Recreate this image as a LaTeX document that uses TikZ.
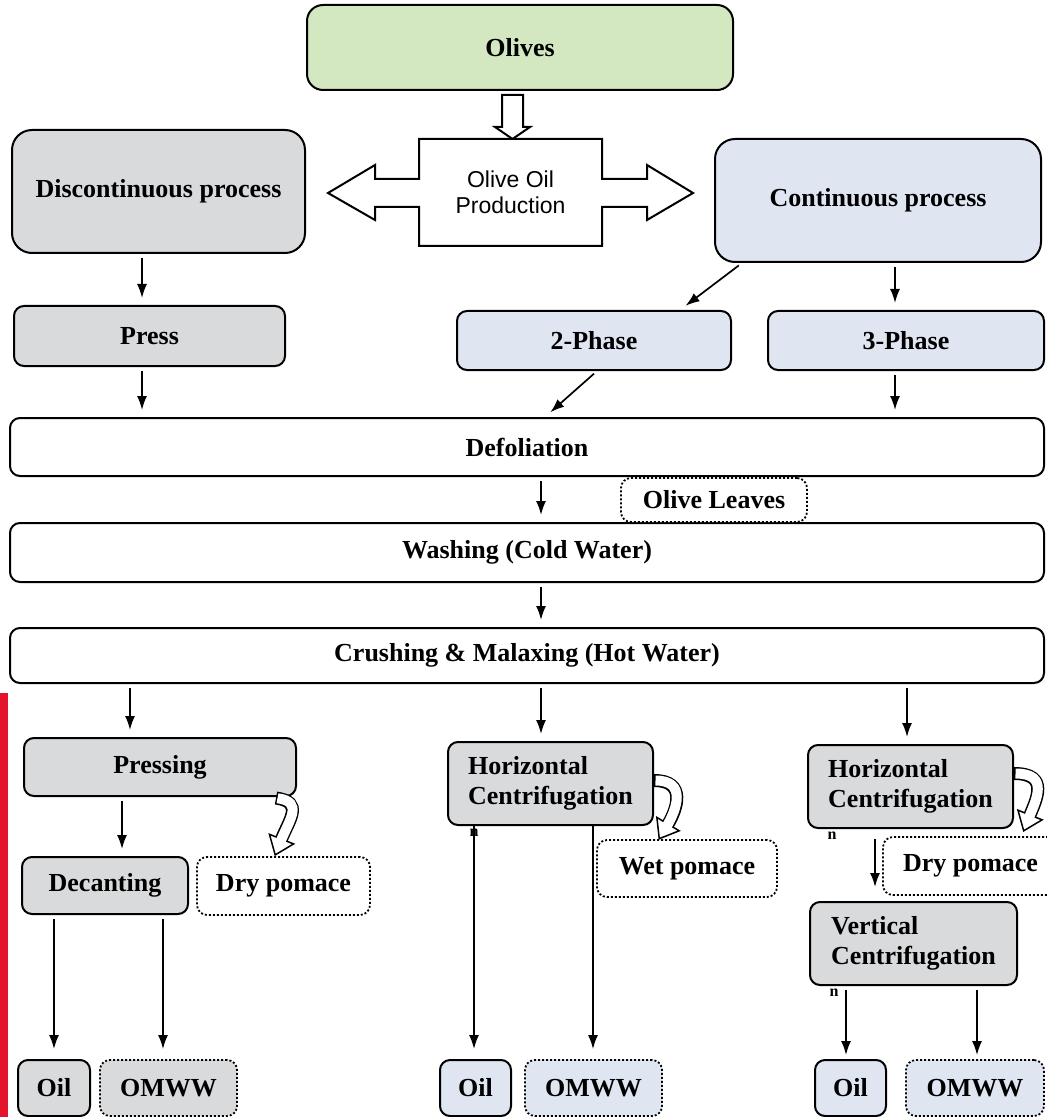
\documentclass[tikz,border=0pt]{standalone}
\usepackage{fontspec}
\setmainfont{Liberation Serif}
\newfontfamily\arialfont{Liberation Sans}
\usepackage{xcolor}
\usetikzlibrary{arrows.meta,calc}
\definecolor{oliveGreen}{RGB}{211, 231, 193}
\definecolor{stepGray}{RGB}{217, 218, 219}
\definecolor{stepBlue}{RGB}{223, 230, 241}
\definecolor{barRed}{RGB}{228, 20, 45}

\tikzset{
  procbox/.style={draw, line width=1pt, rounded corners=5pt, inner sep=2pt, align=center,
    font=\bfseries\fontsize{13}{15}\selectfont},
  graybox/.style={procbox, fill=stepGray},
  bluebox/.style={procbox, fill=stepBlue},
  wastebox/.style={procbox, densely dotted, line width=0.9pt},
  flow/.style={-{Latex[length=7pt,width=5pt]}, line width=0.85pt, shorten <=2pt, shorten >=3.5pt},
  tickmark/.style={inner sep=0pt, font=\bfseries\fontsize{8}{8}\selectfont},
}

% hollow curved arrow: start, out vector, in vector, end of shaft
\newcommand{\pomacecurl}[4]{%
  \coordinate (curlS) at #1;
  \coordinate (curlE) at #4;
  \coordinate (curlC) at ($(curlE)+#3$);
  \filldraw[fill=white, line width=0.75pt]
    ($(curlE)!6.5pt!90:(curlC)$) -- ($(curlE)!8.5pt!180:(curlC)$) -- ($(curlE)!6.5pt!-90:(curlC)$) -- cycle;
  \draw[line width=6.5pt] (curlS) .. controls +#2 and +#3 .. (curlE);
  \draw[line width=5pt, white, shorten <=0.75pt, shorten >=-1.5pt] (curlS) .. controls +#2 and +#3 .. (curlE);
}

\begin{document}
\begin{tikzpicture}[x=0.5pt, y=-0.5pt]
            \useasboundingbox (0,0) rectangle (1046,1117);
            \fill[barRed] (0,693) rectangle (8,1117);

            % Top
            \node[procbox, fill=oliveGreen, rounded corners=8pt, minimum width=213pt, minimum height=42.5pt] (olives) at (520,47.5) {Olives};
            \draw[line width=1pt, fill=white] (502,95) -- (523,95) -- (523,127) -- (530,127) -- (512.5,139) -- (495,127) -- (502,127) -- cycle;
            \draw[line width=1pt, fill=white] (419,139) -- (602,139) -- (602,179) -- (647,179) -- (647,165) -- (693,193) -- (647,220) -- (647,207) -- (602,207) -- (602,246) -- (419,246) -- (419,207) -- (375,207) -- (375,220) -- (328,193) -- (375,165) -- (375,179) -- (419,179) -- cycle;
            \node[font=\arialfont\fontsize{11.5}{13}\selectfont, align=center] (oop) at (510.5,192.5) {Olive Oil\\Production};

            \node[graybox, rounded corners=10pt, minimum width=146.5pt, minimum height=61.5pt] (disc) at (158.5,191.5) {Discontinuous process};
            \node[bluebox, rounded corners=10pt, minimum width=163pt, minimum height=61.5pt] (cont) at (878,200.5) {Continuous process};

            \node[graybox, minimum width=135.5pt, minimum height=30pt] (press) at (149.5,336) {Press};
            \node[bluebox, minimum width=137pt, minimum height=29.5pt] (ph2) at (594,340.5) {2-Phase};
            \node[bluebox, minimum width=138pt, minimum height=29.5pt] (ph3) at (906,340.5) {3-Phase};

            % Common steps
            \node[procbox, minimum width=517pt, minimum height=29pt] (defol) at (527,447) {Defoliation};
            \node[procbox, minimum width=517pt, minimum height=29.5pt] (wash) at (527,552.5) {Washing (Cold Water)};
            \node[wastebox, fill=white, minimum width=93pt, minimum height=22pt] (leaves) at (714,500) {Olive Leaves};
            \node[procbox, minimum width=517pt, minimum height=27.5pt] (crush) at (527,655.5) {Crushing \& Malaxing (Hot Water)};

            % Pressing line
            \node[graybox, minimum width=136pt, minimum height=29pt] (pressing) at (160,767) {Pressing};
            \node[graybox, minimum width=83pt, minimum height=28.5pt] (decant) at (105,885.5) {Decanting};
            \node[wastebox, fill=white, minimum width=86.5pt, minimum height=29pt] (drypL) at (283.5,886) {Dry pomace};
            \node[graybox, minimum width=36pt, minimum height=28pt] (oilL) at (54,1088) {Oil};
            \node[wastebox, fill=stepGray, minimum width=68.5pt, minimum height=28pt] (omwwL) at (168.5,1088) {OMWW};

            % 2-phase line
            \node[graybox, align=left, minimum width=102.5pt, minimum height=41.5pt] (hcM) at (550.5,783.5) {Horizontal\\Centrifugation};
            \node[wastebox, fill=white, minimum width=90pt, minimum height=28.5pt] (wetp) at (687,868.5) {Wet pomace};
            \node[bluebox, minimum width=35.5pt, minimum height=28pt] (oilM) at (475.5,1088) {Oil};
            \node[wastebox, fill=stepBlue, minimum width=68.5pt, minimum height=28pt] (omwwM) at (593.5,1088) {OMWW};

            % 3-phase line
            \node[graybox, align=left, minimum width=102.5pt, minimum height=41.5pt] (hcR) at (910.5,786.5) {Horizontal\\Centrifugation};
            \node[wastebox, fill=white, minimum width=87.5pt, minimum height=29pt] (dryR) at (970.5,866) {Dry pomace};
            \node[graybox, align=left, minimum width=103.5pt, minimum height=41.5pt] (vcR) at (913.5,943.5) {Vertical\\Centrifugation};
            \node[bluebox, minimum width=35.5pt, minimum height=28pt] (oilR) at (850.5,1088) {Oil};
            \node[wastebox, fill=stepBlue, minimum width=69pt, minimum height=28pt] (omwwR) at (975,1088) {OMWW};

            \node[tickmark] (tickM) at ($(hcM.south west)+(27,7)$) {n};
            \node[tickmark] (tickR) at ($(hcR.south west)+(25,7)$) {n};
            \node[tickmark] (tickV) at ($(vcR.south west)+(25,7)$) {n};

            % Arrows
            \draw[flow] ([xshift=-8.25pt]disc.south) -- ([xshift=-8.25pt]disc.south |- press.north);
            \draw[flow] ([xshift=-3.75pt]press.south) -- ([xshift=-3.75pt]press.south |- defol.north);
            \draw[flow] ([xshift=14pt]cont.south west) -- ([xshift=43pt]ph2.north);
            \draw[flow] ([xshift=8.5pt]cont.south) -- ([xshift=8.5pt]cont.south |- ph3.north);
            \draw[flow] ([xshift=1.5pt]ph2.south) -- ([xshift=9pt]defol.north);
            \draw[flow] ([xshift=-5.5pt]ph3.south) -- ([xshift=-5.5pt]ph3.south |- defol.north);
            \draw[flow] ([xshift=7pt]defol.south) -- ([xshift=7pt]defol.south |- wash.north);
            \draw[flow] ([xshift=7pt]wash.south) -- ([xshift=7pt]wash.south |- crush.north);

            \draw[flow] ([xshift=-15pt]pressing.north |- crush.south) -- ([xshift=-15pt]pressing.north);
            \draw[flow] ([xshift=-4.75pt]hcM.north |- crush.south) -- ([xshift=-4.75pt]hcM.north);
            \draw[flow] ([xshift=-1.75pt]hcR.north |- crush.south) -- ([xshift=-1.75pt]hcR.north);

            \draw[flow] ([xshift=8.5pt]decant.north |- pressing.south) -- ([xshift=8.5pt]decant.north);
            \draw[flow, shorten >=5pt] (oilL.north |- decant.south) -- (oilL.north);
            \draw[flow, shorten >=5pt] ([xshift=-2.75pt]omwwL.north |- decant.south) -- ([xshift=-2.75pt]omwwL.north);
            \draw[flow, shorten <=0pt, shorten >=5pt] ([xshift=-0.75pt]oilM.north |- hcM.south) -- ([xshift=-0.75pt]oilM.north);
            \draw[flow, shorten <=0pt, shorten >=5pt] ([xshift=-0.25pt]omwwM.north |- hcM.south) -- ([xshift=-0.25pt]omwwM.north);
            \draw[flow, shorten <=5pt, shorten >=7pt] ([xshift=-19.25pt]vcR.north |- hcR.south) -- ([xshift=-19.25pt]vcR.north);
            \draw[flow, shorten >=2pt] ([xshift=-2.25pt]oilR.north |- vcR.south) -- ([xshift=-2.25pt]oilR.north);
            \draw[flow, shorten >=2pt] ([xshift=1pt]omwwR.north |- vcR.south) -- ([xshift=1pt]omwwR.north);

            % Pomace outlets
            \pomacecurl{($(pressing.south east)+(-21,1)$)}{(28,4)}{(8,-20)}{($(drypL.north)+(-2,-17)$)}
            \pomacecurl{($(hcM.east)+(0,-3)$)}{(33,0)}{(9,-15)}{($(wetp.north)+(-19,-15)$)}
            \pomacecurl{($(hcR.east)+(0,-13)$)}{(36,0)}{(6,-15)}{($(hcR.south east)+(16,-14)$)}
        \end{tikzpicture}
\end{document}
